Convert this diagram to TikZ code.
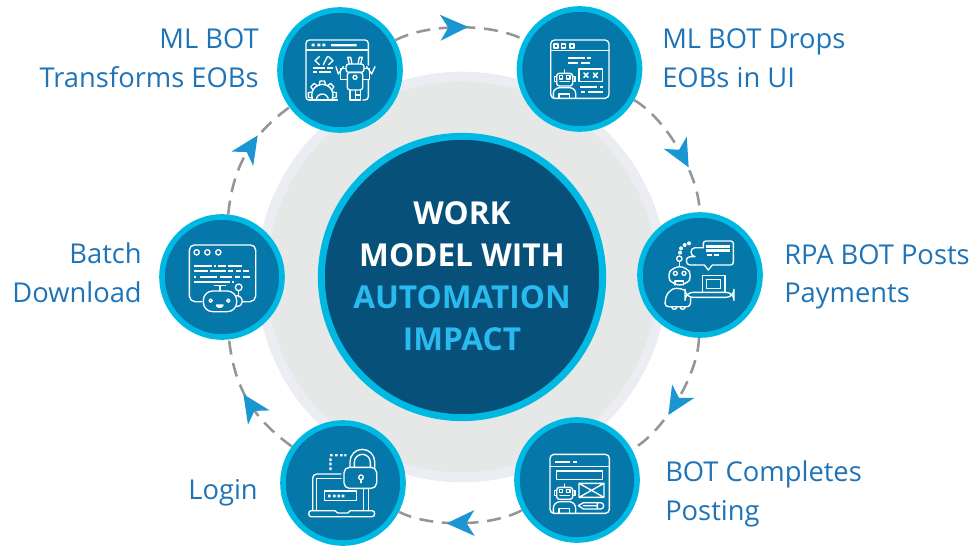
\documentclass[tikz,border=0pt]{standalone}
\usepackage{fontspec}
\setmainfont{Open Sans}
\usetikzlibrary{decorations.markings}
\definecolor{ringout}{HTML}{ECEDF2}
\definecolor{ringin}{HTML}{E6E8E8}
\definecolor{cyanring}{HTML}{00B9E3}
\definecolor{hubfill}{HTML}{07507A}
\definecolor{stepfill}{HTML}{0677A9}
\definecolor{labelblue}{HTML}{1F73B7}
\definecolor{hubblue}{HTML}{29BBEF}
\definecolor{arrowblue}{HTML}{1B96D2}
\definecolor{dashgrey}{HTML}{939598}
\tikzset{
  stepnode/.style={circle,draw=cyanring,fill=stepfill,line width=4.2pt,minimum size=90pt,inner sep=0pt},
  lab/.style={text=labelblue,font=\fontsize{20.5pt}{29pt}\selectfont,inner sep=0pt},
  labl/.style={lab,anchor=east,align=right},
  labr/.style={lab,anchor=west,align=left},
  hubline/.style={font=\fontsize{23.7pt}{28pt}\selectfont\bfseries,anchor=base,inner sep=0pt},
  conn/.style={draw=dashgrey,line width=1.9pt,dash pattern=on 10.5pt off 6.5pt},
  arrowat/.style={postaction={decorate,decoration={markings,mark=at position #1 with {\fill[arrowblue] (14,0) -- (-14,-13) -- (-6,0) -- (-14,13) -- cycle;}}}},
  icon/.style={draw=white,line width=1pt,line cap=round,line join=round},
  icont/.style={icon,line width=1.6pt,line cap=butt},
  iconscale/.style={x=.25pt,y=-.25pt},
  flat/.style={bend left=28,looseness=.72},
  side/.style={bend left=30,looseness=.72},
  leftside/.style={bend left=24}
}
\begin{document}
\begin{tikzpicture}[x=.75pt,y=-.75pt]
\useasboundingbox (0,0) rectangle (971,546);
\fill[ringout] (462,277) circle[radius=154pt];
\fill[ringin] (462,277) circle[radius=146.5pt];
\node[circle,draw=cyanring,fill=hubfill,line width=5.2pt,minimum size=211pt,inner sep=0pt] (hub) at (462,277) {};
\node[stepnode] (s1) at (340,70) {};
\node[stepnode] (s2) at (579.5,69) {};
\node[stepnode] (s3) at (700,275) {};
\node[stepnode] (s4) at (577,480) {};
\node[stepnode] (s5) at (343,483) {};
\node[stepnode] (s6) at (222,277) {};
\path[conn,arrowat=.46] (s1) to[flat] (s2);
\path[conn,arrowat=.55] (s2) to[side] (s3);
\path[conn,arrowat=.52] (s3) to[side] (s4);
\path[conn,arrowat=.50] (s4) to[flat] (s5);
\path[conn,arrowat=.45] (s5) to[leftside] (s6);
\path[conn,arrowat=.56] (s6) to[leftside] (s1);
\node[hubline,text=white] (h1) at (462,224) {WORK};
\node[hubline,text=white] (h2) at (462,266) {MODEL WITH};
\node[hubline,text=hubblue] (h3) at (462,308) {AUTOMATION};
\node[hubline,text=hubblue] (h4) at (462,350) {IMPACT};
\node[labl] (l1) at (259,58) {ML BOT\\Transforms EOBs};
\node[labr] (l2) at (662,58) {ML BOT Drops\\EOBs in UI};
\node[labr] (l3) at (784,277) {RPA BOT Posts\\Payments};
\node[labr] (l4) at (665,494) {BOT Completes\\Posting};
\node[labl] (l5) at (258,493) {Login};
\node[labl] (l6) at (142,273) {Batch\\Download};
% icon 1
\begin{scope}[shift={(270,0)},iconscale]
\draw[icon] (118,300) -- (115,300) to[out=180,in=-90] (108,290) -- (108,130) to[out=90,in=180] (118,120) -- (285,120) to[out=0,in=90] (295,130) -- (295,195);
\draw[icon] (295,240) -- (295,290) to[out=-90,in=0] (285,300) -- (278,300);
\draw[icon] (108,150) -- (295,150);
\fill[white] (125,131) rectangle +(9,8) (142,131) rectangle +(9,8) (157,131) rectangle +(9,8) (183,132) rectangle (260,139);
\draw[icon] (148,170) -- (135,182) -- (148,194) (172,170) -- (160,194) (176,170) -- (189,182) -- (176,194);
\draw[icont] (128,204) -- (165,204) (172,204) -- (188,204) (128,217) -- (140,217) (148,217) -- (182,217);
\begin{scope}
\clip (100,230) rectangle (215,301);
\draw[icon] (157,285) circle[radius=32];
\foreach \a in {0,45,...,315} {\draw[icon,rotate around={\a:(157,285)}] (148,255) -- (150,243) -- (164,243) -- (166,255);}
\end{scope}
\draw[icon] (118,300) -- (202,300);
\draw[icon] (139,300) arc[start angle=180,end angle=360,radius=18];
\draw[icon,rounded corners=2pt] (228,192) rectangle (282,217);
\draw[icon] (238,192) -- (233,172) -- (242,172) -- (246,192) (264,192) -- (268,172) -- (277,172) -- (272,192);
\draw[icon] (228,205) -- (212,205) -- (212,238) -- (232,238) (282,205) -- (298,205) -- (298,238) -- (278,238);
\draw[icon] (205,222) -- (198,200) (205,222) -- (220,200) (305,222) -- (290,200) (305,222) -- (315,200);
\draw[icon,rounded corners=2pt] (232,217) rectangle (278,270);
\draw[icon] (255,232) circle[radius=6];
\draw[icon] (240,270) -- (240,300) -- (256,300) -- (256,270) (256,285) -- (272,285) -- (272,270) (256,300) -- (272,300) -- (272,285);
\end{scope}
% icon 2
\begin{scope}[shift={(510,0)},iconscale]
\draw[icon,rounded corners=3pt] (122,120) rectangle (297,295);
\draw[icon] (122,152) -- (297,152);
\draw[icon] (132,132) rectangle +(12,12) (155,132) rectangle +(12,12) (180,132) rectangle +(12,12);
\draw[icont] (175,175) -- (225,175) (232,175) -- (242,175) (175,190) -- (205,190) (212,190) -- (240,190);
\draw[icon] (207,207) rectangle (278,245);
\draw[icon,line width=1.2pt] (222,219) -- (234,232) (234,219) -- (222,232) (250,219) -- (262,232) (262,219) -- (250,232);
\draw[icont] (210,260) -- (262,260) (270,260) -- (280,260) (212,277) -- (225,277) (235,277) -- (280,277);
\draw[icon,rounded corners=2pt] (140,220) rectangle (188,258);
\draw[icon] (163,210) -- (163,220);
\draw[icon] (140,230) -- (133,230) -- (133,245) -- (140,245) (188,230) -- (195,230) -- (195,245) -- (188,245);
\draw[icon] (148,227) rectangle +(10,10) (170,227) rectangle +(10,10);
\draw[icon] (150,245) -- (178,245);
\draw[icon] (130,295) -- (130,280) to[out=90,in=180] (150,263) -- (178,263) to[out=0,in=90] (197,280) -- (197,295);
\draw[icon] (147,295) -- (147,282) -- (178,282) -- (178,295);
\end{scope}
% icon 3
\begin{scope}[shift={(630,205)},iconscale]
\draw[icon] (220,128) -- (220,115) to[out=90,in=180] (228,108) -- (302,108) to[out=0,in=90] (310,115) -- (310,172) to[out=-90,in=0] (302,180) -- (247,180) -- (235,195) -- (223,180) -- (195,180);
\draw[icon] (220,128) -- (195,128) to[out=180,in=180,looseness=1.5] (195,155) -- (180,155) to[out=180,in=180,looseness=1.5] (180,180) -- (195,180);
\draw[icont,line width=1.8pt] (228,125) -- (300,125) (228,137) -- (300,137);
\draw[icont] (230,151) -- (245,151) (252,151) -- (267,151);
\fill[white] (150,143) circle[radius=6] (153,130) circle[radius=6] (164,120) circle[radius=6] (177,115) circle[radius=6];
\draw[icon] (148,161) circle[radius=8];
\draw[icon] (148,169) -- (148,185);
\draw[icon,rounded corners=5pt] (130,185) -- (168,185) -- (187,213) -- (168,240) -- (130,240) -- (110,213) -- cycle;
\draw[icon] (136,205) circle[radius=6] (162,205) circle[radius=6];
\draw[icon] (135,240) -- (135,228) -- (160,228) -- (160,240);
\draw[icon] (165,256) to[out=160,in=0] (140,250) to[out=180,in=90] (105,295) to[out=-90,in=180] (115,305) -- (172,305) to[out=0,in=-90] (182,280);
\draw[icon] (125,305) arc[start angle=180,end angle=0,radius=8] (150,305) arc[start angle=180,end angle=0,radius=8];
\draw[icon,rounded corners=6pt] (165,262) rectangle (312,277);
\draw[icon] (218,262) -- (218,212) -- (285,212) -- (285,262);
\draw[icon] (230,250) -- (230,224) -- (272,224) -- (272,250) -- cycle;
\end{scope}
% icon 4
\begin{scope}[shift={(510,410)},iconscale]
\draw[icon,rounded corners=3pt] (120,133) rectangle (298,310);
\draw[icon] (120,170) -- (298,170);
\draw[icont] (135,155) -- (180,155) (190,155) -- (202,155);
\draw[icon] (140,183) rectangle (278,208);
\draw[icon] (207,220) rectangle (282,262) (207,220) -- (282,262) (207,262) -- (282,220);
\draw[icon] (205,287) -- (220,278) -- (272,278) to[out=0,in=0,looseness=1.6] (272,297) -- (220,297) -- cycle (220,287) -- (262,287) (262,278) -- (262,297);
\draw[icon,rounded corners=2pt] (140,232) rectangle (188,268);
\draw[icon] (163,222) -- (163,232);
\draw[icon] (140,242) -- (133,242) -- (133,257) -- (140,257) (188,242) -- (195,242) -- (195,257) -- (188,257);
\draw[icon] (148,238) rectangle +(10,10) (170,238) rectangle +(10,10);
\draw[icon] (150,257) -- (178,257);
\draw[icon] (130,310) -- (130,295) to[out=90,in=180] (150,275) -- (178,275) to[out=0,in=90] (197,295) -- (197,310);
\draw[icon] (147,310) -- (147,295) -- (178,295) -- (178,310);
\end{scope}
% icon 5
\begin{scope}[shift={(275,410)},iconscale]
\draw[icon,rounded corners=4pt] (207,172) rectangle (305,235);
\draw[icon] (225,172) -- (225,155) arc[start angle=180,end angle=360,radius=37] -- (299,172);
\draw[icon] (238,172) -- (238,157) arc[start angle=180,end angle=360,radius=24] -- (286,172);
\draw[icon] (258,202) circle[radius=7];
\draw[icon] (258,209) -- (258,218);
\fill[white] (165,132) rectangle +(8,7) (180,132) rectangle +(8,7) (195,132) rectangle +(8,7) (208,132) rectangle +(6,7) (163,145) rectangle +(7,8) (163,158) rectangle +(7,8) (163,172) rectangle +(7,8);
\draw[icon] (198,192) -- (125,192) to[out=180,in=90] (113,205) -- (113,302);
\draw[icon] (125,302) -- (125,205) -- (198,205);
\draw[icon] (266,236) -- (266,302) (280,236) -- (280,302);
\draw[icon] (108,302) -- (180,302) -- (188,309) -- (218,309) -- (226,302) -- (292,302) to[out=0,in=0,looseness=1.3] (292,320) -- (108,320) to[out=180,in=180,looseness=1.3] cycle;
\draw[icon] (148,243) rectangle (245,272);
\fill[white] (159,254) rectangle +(8,8) (174,254) rectangle +(8,8) (187,254) rectangle +(8,8) (200,254) rectangle +(8,8);
\end{scope}
% icon 6
\begin{scope}[shift={(155,205)},iconscale]
\draw[icon] (140,290) -- (120,290) to[out=180,in=-90] (103,273) -- (103,135) to[out=90,in=180] (118,120) -- (287,120) to[out=0,in=90] (302,135) -- (302,273) to[out=-90,in=0] (285,290) -- (262,290);
\draw[icon] (125,142) circle[radius=8] (157,142) circle[radius=8] (190,142) circle[radius=8];
\draw[icont] (118,183) -- (170,183) (178,183) -- (182,183) (188,183) -- (212,183) (220,183) -- (262,183) (118,198) -- (158,198) (165,198) -- (212,198) (220,198) -- (235,198) (243,198) -- (258,198) (265,198) -- (282,198) (118,215) -- (123,215) (135,215) -- (185,215) (195,215) -- (232,215) (240,215) -- (255,215) (265,215) -- (285,215) (118,232) -- (225,232) (232,232) -- (238,232);
\draw[icon,rounded corners=7pt] (145,258) rectangle (245,320);
\draw[icon] (195,258) -- (195,242) (178,242) -- (212,242);
\draw[icon] (245,272) to[out=0,in=90] (262,290) to[out=-90,in=0] (245,305);
\draw[icon] (251,247) circle[radius=10];
\draw[icon] (250,257) -- (250,275);
\draw[icon] (167,287) circle[radius=5] (220,287) circle[radius=5];
\draw[icon,fill=white] (184,300) -- (204,300) to[out=-90,in=-90,looseness=1.2] cycle;
\end{scope}
\end{tikzpicture}
\end{document}
